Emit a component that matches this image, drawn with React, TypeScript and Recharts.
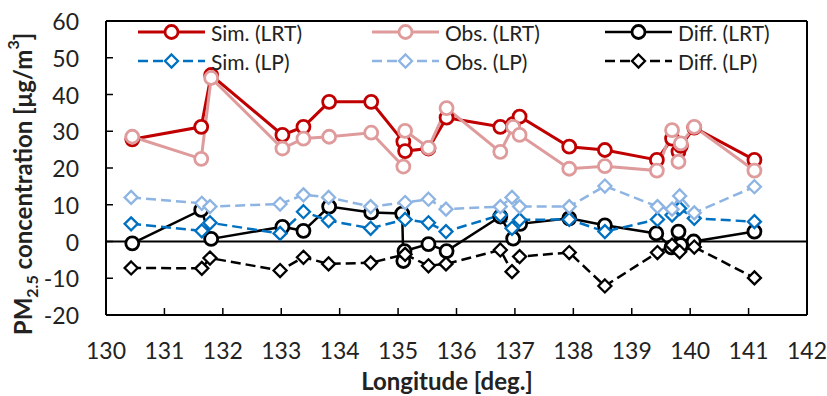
import { Label, Legend, Line, LineChart, ReferenceLine, XAxis, YAxis } from "recharts";

document.body.style.margin = "0";

const xTicks = [130, 131, 132, 133, 134, 135, 136, 137, 138, 139, 140, 141, 142];
const yTicks = [-20, -10, 0, 10, 20, 30, 40, 50, 60];

// LRT stations
const simLrtLon = [130.45, 131.63, 131.8, 133.02, 133.38, 133.82, 134.54, 135.09, 135.12, 135.52, 135.83, 136.75, 136.97, 137.08, 137.93, 138.54, 139.43, 139.69, 139.8, 139.84, 140.07, 141.1];
const simLrtVal = [27.8, 31.2, 45.3, 29.0, 31.2, 38.0, 38.0, 27.2, 24.6, 25.3, 33.7, 31.2, 32.0, 34.0, 25.8, 24.9, 22.2, 28.0, 24.5, 26.0, 31.0, 22.2];
const obsLrtVal = [28.5, 22.5, 44.5, 25.3, 28.0, 28.5, 29.6, 20.4, 30.1, 25.5, 36.3, 24.4, 31.2, 29.0, 19.8, 20.5, 19.3, 30.3, 21.7, 26.7, 31.2, 19.3];
const diffLrtLon = [130.45, 131.63, 131.8, 133.02, 133.38, 133.82, 134.54, 135.07, 135.09, 135.11, 135.52, 135.83, 136.75, 136.97, 137.09, 137.93, 138.54, 139.42, 139.68, 139.8, 139.84, 140.06, 141.1];
const diffLrtVal = [-0.5, 8.6, 0.7, 4.0, 2.9, 9.5, 7.9, 7.6, -5.3, -2.6, -0.7, -2.6, 6.8, 0.8, 4.8, 6.3, 4.4, 2.2, -1.6, 2.7, -1.0, 0.0, 2.7];

// LP stations
const lpLon = [130.43, 131.64, 131.78, 132.98, 133.38, 133.81, 134.53, 135.12, 135.52, 135.82, 136.75, 136.95, 137.08, 137.93, 138.54, 139.44, 139.69, 139.82, 140.07, 141.1];
const simLpVal = [4.8, 2.9, 5.1, 2.2, 8.1, 5.7, 3.6, 6.0, 5.1, 2.7, 7.2, 3.6, 5.9, 6.0, 2.7, 6.0, 7.2, 9.0, 6.3, 5.4];
const obsLpVal = [12.0, 10.4, 9.5, 10.2, 12.7, 12.0, 9.5, 10.6, 11.5, 8.8, 9.5, 12.0, 9.5, 9.5, 15.1, 9.5, 8.8, 12.4, 7.8, 14.9];
const diffLpVal = [-7.2, -7.3, -4.5, -7.9, -4.3, -6.1, -5.8, -3.5, -6.6, -6.1, -2.3, -8.2, -4.1, -3.0, -12.1, -3.0, -1.0, -2.8, -1.5, -9.9];

const toPoints = (xs: number[], ys: number[]) => xs.map((x, i) => ({ x, y: ys[i] }));

const FONT = "Lato, 'Noto Sans', sans-serif";
const TEXT = "#222";

type Shape = "circle" | "diamond";
interface SeriesDef {
  name: string;
  color: string;
  dashed: boolean;
  shape: Shape;
  width: number;
  data: { x: number; y: number }[];
}

const series: SeriesDef[] = [
  { name: "Sim. (LRT)", color: "#C00000", dashed: false, shape: "circle", width: 3, data: toPoints(simLrtLon, simLrtVal) },
  { name: "Obs. (LRT)", color: "#DF9B9B", dashed: false, shape: "circle", width: 3, data: toPoints(simLrtLon, obsLrtVal) },
  { name: "Diff. (LRT)", color: "#000000", dashed: false, shape: "circle", width: 2.5, data: toPoints(diffLrtLon, diffLrtVal) },
  { name: "Sim. (LP)", color: "#0070C0", dashed: true, shape: "diamond", width: 2.5, data: toPoints(lpLon, simLpVal) },
  { name: "Obs. (LP)", color: "#8DB4E2", dashed: true, shape: "diamond", width: 2.5, data: toPoints(lpLon, obsLpVal) },
  { name: "Diff. (LP)", color: "#000000", dashed: true, shape: "diamond", width: 2.5, data: toPoints(lpLon, diffLpVal) },
];

function Marker({ cx, cy, shape, color }: { cx: number; cy: number; shape: Shape; color: string }) {
  if (shape === "circle") {
    return <circle cx={cx} cy={cy} r={6.5} fill="#fff" stroke={color} strokeWidth={2.8} />;
  }
  const s = 6.5;
  return (
    <polygon
      points={`${cx},${cy - s} ${cx + s},${cy} ${cx},${cy + s} ${cx - s},${cy}`}
      fill="#fff"
      stroke={color}
      strokeWidth={2.3}
    />
  );
}

const makeDot = (def: SeriesDef) => (props: any) => (
  <Marker key={`${def.name}-${props.index}`} cx={props.cx} cy={props.cy} shape={def.shape} color={def.color} />
);

const Y_MARGIN = 27;
const X_MARGIN = 27;

function YTick(props: any) {
  const { x, y, payload } = props;
  const ax = x + Y_MARGIN;
  return (
    <g>
      <line x1={ax} x2={ax + 7} y1={y} y2={y} stroke="#000" strokeWidth={1.5} />
      <text x={x} y={y} textAnchor="end" dominantBaseline="central" fontFamily={FONT} fontSize={23} fill={TEXT}>
        {payload.value}
      </text>
    </g>
  );
}

function XTick(props: any) {
  const { x, y, payload } = props;
  const ay = y - X_MARGIN;
  return (
    <g>
      <line x1={x} x2={x} y1={ay} y2={ay - 7} stroke="#000" strokeWidth={1.5} />
      <text x={x} y={y} dy="0.75em" textAnchor="middle" fontFamily={FONT} fontSize={23} fill={TEXT}>
        {payload.value}
      </text>
    </g>
  );
}

const legendCols = [138, 372, 605];
const legendRows = [32, 61];

function LegendBox() {
  return (
    <svg width={827} height={80} style={{ display: "block" }}>
      {series.map((s, i) => {
        const x0 = legendCols[i % 3];
        const y0 = legendRows[Math.floor(i / 3)];
        return (
          <g key={s.name}>
            <line
              x1={x0}
              x2={x0 + 67}
              y1={y0}
              y2={y0}
              stroke={s.color}
              strokeWidth={s.width}
              strokeDasharray={s.dashed ? "10 5" : undefined}
            />
            <Marker cx={x0 + 33.5} cy={y0} shape={s.shape} color={s.color} />
            <text x={x0 + 73} y={y0} dominantBaseline="central" fontFamily={FONT} fontSize={21} fill={TEXT}>
              {s.name}
            </text>
          </g>
        );
      })}
    </svg>
  );
}

export default function App() {
  return (
    <LineChart width={827} height={396} margin={{ top: 21, right: 20, bottom: 0, left: 0 }}>
      <XAxis
        type="number"
        dataKey="x"
        domain={[130, 142]}
        ticks={xTicks}
        height={81}
        stroke="#000"
        strokeWidth={2}
        tickLine={false}
        tickSize={0}
        tickMargin={X_MARGIN}
        tick={<XTick />}
        interval={0}
      >
        <Label
          content={() => (
            <text x={447} y={380} textAnchor="middle" dominantBaseline="central" fontFamily={FONT} fontSize={24} fontWeight="bold" fill={TEXT}>
              Longitude [deg.]
            </text>
          )}
        />
      </XAxis>
      <YAxis
        type="number"
        domain={[-20, 60]}
        ticks={yTicks}
        width={106}
        stroke="#000"
        strokeWidth={2}
        tickLine={false}
        tickSize={0}
        tickMargin={Y_MARGIN}
        tick={<YTick />}
        interval={0}
      >
        <Label
          content={() => (
            <text
              x={22}
              y={184}
              transform="rotate(-90, 22, 184)"
              textAnchor="middle"
              dominantBaseline="central"
              fontFamily={FONT}
              fontSize={24}
              fontWeight="bold"
              fill={TEXT}
            >
              PM<tspan baselineShift="sub" fontSize={16}>2.5</tspan>
              <tspan> concentration [μg/m</tspan>
              <tspan baselineShift="super" fontSize={16}>3</tspan>
              <tspan>]</tspan>
            </text>
          )}
        />
      </YAxis>
      <ReferenceLine y={0} stroke="#000" strokeWidth={2} />
      <ReferenceLine y={60} stroke="#000" strokeWidth={2} />
      <ReferenceLine x={142} stroke="#000" strokeWidth={2} />
      {series.map((s) => (
        <Line
          key={s.name}
          data={s.data}
          dataKey="y"
          name={s.name}
          type="linear"
          stroke={s.color}
          strokeWidth={s.width}
          strokeDasharray={s.dashed ? "10 5" : undefined}
          dot={makeDot(s)}
          activeDot={false}
          isAnimationActive={false}
        />
      ))}
      <Legend
        layout="horizontal"
        verticalAlign="middle"
        align="center"
        width={827}
        height={80}
        wrapperStyle={{ position: "absolute", left: 0, top: 0, width: 827, height: 80 }}
        content={() => <LegendBox />}
      />
    </LineChart>
  );
}
